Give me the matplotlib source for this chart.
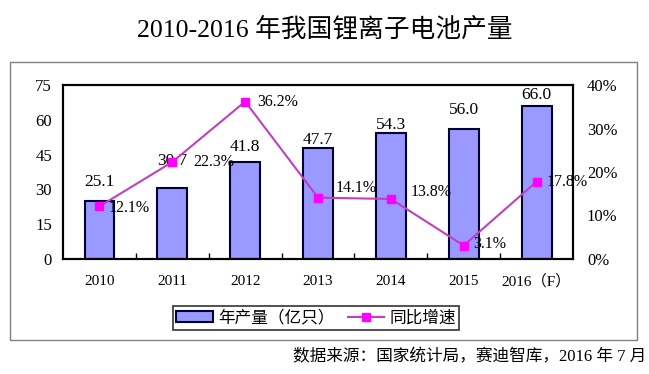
import matplotlib
matplotlib.use("Agg")
import matplotlib.pyplot as plt
from matplotlib.patches import Rectangle
import numpy as np

# ── data ─────────────────────────────────────────────────────────────
years  = ["2010", "2011", "2012", "2013", "2014", "2015", "2016（F）"]
output = [25.1, 30.7, 41.8, 47.7, 54.3, 56.0, 66.0]      # 亿只
growth = [12.1, 22.3, 36.2, 14.1, 13.8, 3.1, 17.8]       # %

# label offsets (pixels) as in the source chart
bar_lbl_dy  = [19, 27, 15, 8, 8, 19, 11]
line_lbl_dx = [9, 21, 12, 18, 20, 10, 10]
line_lbl_dy = [-2, 0, 0, 10, 7, 2, 0]

SERIF = ["Liberation Serif", "Noto Sans CJK SC", "DejaVu Sans"]
CJK   = ["Noto Sans CJK SC", "DejaVu Sans"]

BAR_C  = "#9999FF"
LINE_C = "#C040C0"
MARK_C = "#FF00FF"


def main():
    fig = plt.figure(figsize=(6.49, 3.74), dpi=100)
    ax = fig.add_axes([0.0971, 0.3075, 0.7858, 0.4652])
    ax2 = ax.twinx()

    x = np.arange(len(years))
    bars = ax.bar(x, output, width=0.41, color=BAR_C, edgecolor="#000033",
                  linewidth=1.5, zorder=2, label="年产量（亿只）")
    ln, = ax2.plot(x, growth, color=LINE_C, lw=1.5, marker="s", ms=6,
                   mfc=MARK_C, mec=MARK_C, zorder=3, label="同比增速")

    ax.set_xlim(-0.5, len(years) - 0.5)
    ax.set_ylim(0, 75)
    ax.set_yticks(np.arange(0, 76, 15))
    ax2.set_ylim(0, 40)
    ax2.set_yticks(np.arange(0, 41, 10))
    ax2.set_yticklabels([f"{v}%" for v in range(0, 41, 10)])

    ax.set_xticks(x)
    ax.set_xticklabels(years)
    ax.set_xticks(x[:-1] + 0.5, minor=True)
    ax.tick_params(axis="x", which="major", length=0, pad=19)
    ax.tick_params(axis="x", which="minor", direction="in", length=4,
                   width=1)
    for lb in ax.get_xticklabels():
        lb.set_fontfamily(SERIF)
        lb.set_fontsize(11)
        lb.set_verticalalignment("baseline")

    ax.tick_params(axis="y", length=0, pad=8)
    ax2.tick_params(axis="y", length=0, pad=10)
    for lb in ax.get_yticklabels() + ax2.get_yticklabels():
        lb.set_fontfamily(SERIF)
        lb.set_fontsize(12)

    for a in (ax, ax2):
        for s in a.spines.values():
            s.set_linewidth(1.5)
            s.set_color("black")

    for xi, v, dy in zip(x, output, bar_lbl_dy):
        ax.annotate(f"{v:.1f}", (xi, v), xytext=(0, dy * 0.72),
                    textcoords="offset points", ha="center", va="center",
                    fontsize=12.5, family=SERIF)
    for xi, g, dx, dy in zip(x, growth, line_lbl_dx, line_lbl_dy):
        ax2.annotate(f"{g:.1f}%", (xi, g), xytext=(dx * 0.72, dy * 0.72),
                     textcoords="offset points", ha="left", va="center",
                     fontsize=11.5, family=SERIF, zorder=4)

    leg = fig.legend(handles=[bars, ln], loc="center",
                     bbox_to_anchor=(0.487, 0.15), ncol=2,
                     prop={"family": CJK, "size": 12},
                     frameon=True, fancybox=False, edgecolor="black",
                     handlelength=2.2, handletextpad=0.3, columnspacing=0.8,
                     borderpad=0.2)
    leg.get_frame().set_linewidth(1.2)

    # outer chart frame
    fig.patches.append(Rectangle((0.0154, 0.091), 0.966, 0.743,
                                 transform=fig.transFigure, fill=False,
                                 edgecolor="#808080", lw=1))

    fig.text(0.5, 0.922, "2010-2016 年我国锂离子电池产量", ha="center",
             va="center", fontsize=18.5, family=SERIF)
    fig.text(0.995, 0.045, "数据来源：国家统计局，赛迪智库，2016 年 7 月",
             ha="right", va="center", fontsize=12, family=SERIF)

    fig.savefig("out.png", dpi=100)


if __name__ == "__main__":
    main()
